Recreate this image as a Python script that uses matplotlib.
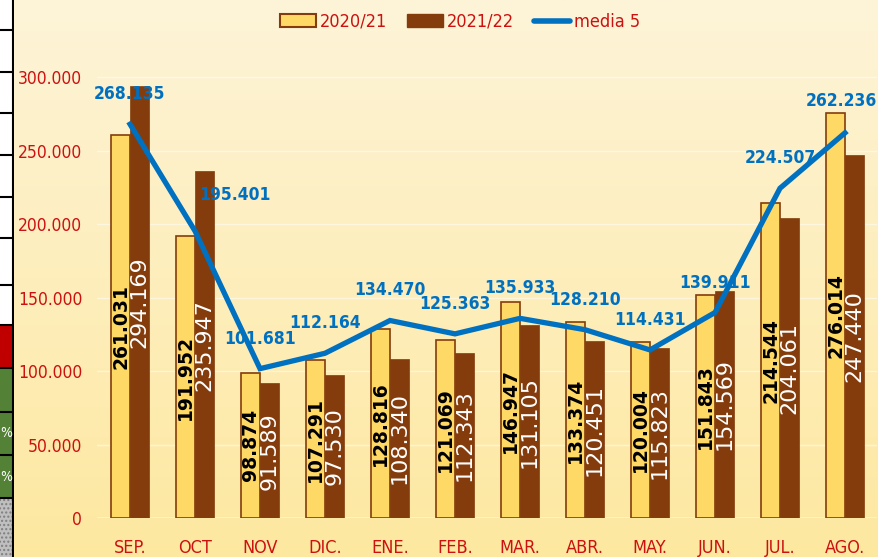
import matplotlib
matplotlib.use("Agg")
import matplotlib.pyplot as plt
import numpy as np
from matplotlib.patches import Rectangle, Patch
from matplotlib.lines import Line2D
from matplotlib.ticker import FuncFormatter

months = ["SEP.", "OCT", "NOV", "DIC.", "ENE.", "FEB.", "MAR.", "ABR.", "MAY.", "JUN.", "JUL.", "AGO."]
s2020 = [261031, 191952, 98874, 107291, 128816, 121069, 146947, 133374, 120004, 151843, 214544, 276014]
s2021 = [294169, 235947, 91589, 97530, 108340, 112343, 131105, 120451, 115823, 154569, 204061, 247440]
media5 = [268135, 195401, 101681, 112164, 134470, 125363, 135933, 128210, 114431, 139911, 224507, 262236]
yticks = [0, 50000, 100000, 150000, 200000, 250000, 300000]

def fmt(v):
    return f"{int(v):,}".replace(",", ".")

plt.rcParams['font.family'] = ['DejaVu Sans']
plt.rcParams['font.stretch'] = 'condensed'

W, H = 879, 557
fig = plt.figure(figsize=(W/100, H/100), dpi=100)

# background gradient
bg = fig.add_axes([0, 0, 1, 1], zorder=-10)
grad = np.linspace(0, 1, 256).reshape(-1, 1)
top = np.array([253, 244, 216]) / 255
bot = np.array([254, 232, 160]) / 255
img = top[None, None, :] * (1 - grad[:, :, None]) + bot[None, None, :] * grad[:, :, None]
bg.imshow(img, aspect='auto', extent=[0, 1, 0, 1])
bg.set_axis_off()

# left spreadsheet strip
strip = fig.add_axes([0, 0, 14/W, 1], zorder=-5)
strip.set_xlim(0, 14)
strip.set_ylim(H, 0)
strip.set_axis_off()
strip.add_patch(Rectangle((0, 0), 13, H, color='white'))
strip.add_patch(Rectangle((0, 325), 13, 43, color='#C00000'))
for y0, y1 in [(368, 412), (413, 454), (456, 498)]:
    strip.add_patch(Rectangle((0, y0), 13, y1 - y0, color='#538135'))
strip.add_patch(Rectangle((0, 499), 13, 58, color='#BFBFBF', hatch='....', ec='#7F7F7F', lw=0))
for y in [30, 72, 113, 155, 197, 238, 285, 325, 368, 412, 455, 498]:
    strip.plot([0, 13], [y, y], color='black', lw=1.5)
strip.plot([13, 13], [0, H], color='black', lw=1.5)
for y in [433, 477]:
    strip.text(12.5, y, "%", color='white', fontsize=10, ha='right', va='center')

ax = fig.add_axes([97.5/W, (H-518)/H, (877.5-97.5)/W, (518-48)/H])
ax.set_facecolor('none')
x = np.arange(len(months))
bw = 0.29
ax.bar(x - bw/2, s2020, width=bw, color='#FFD966', edgecolor='#843C0C', linewidth=1.2, zorder=2)
ax.bar(x + bw/2, s2021, width=bw, color='#843C0C', edgecolor='#843C0C', linewidth=0.5, zorder=2)

for i in range(len(months)):
    ax.text(x[i] - bw/2, s2020[i]/2, fmt(s2020[i]), rotation=90, ha='center', va='center',
            color='black', fontsize=13.5, fontweight='bold', fontstretch='normal', zorder=4)
    ax.text(x[i] + bw/2, s2021[i]/2, fmt(s2021[i]), rotation=90, ha='center', va='center',
            color='white', fontsize=16, fontstretch='normal', zorder=4)

ax.plot(x, media5, color='#0070C0', lw=3.8, zorder=3, solid_joinstyle='miter')
offsets = {1: (40, 36), 11: (-4, 32)}
for i, v in enumerate(media5):
    dx, dy = offsets.get(i, (0, 30))
    ax.annotate(fmt(v), (x[i], v), xytext=(dx, dy), textcoords='offset pixels',
                ha='center', va='center', color='#0070C0', fontsize=12.5, fontweight='bold',
                annotation_clip=False, zorder=5)

ax.set_xlim(-0.5, 11.5)
ax.set_ylim(0, 320000)
ax.set_yticks(yticks)
ax.yaxis.set_major_formatter(FuncFormatter(lambda v, p: fmt(v)))
ax.set_xticks(x)
ax.set_xticklabels(months)
ax.tick_params(axis='both', length=0, colors='#CC1111', labelsize=12.5)
ax.tick_params(axis='x', labelsize=13)
ax.tick_params(axis='y', pad=11)
ax.tick_params(axis='x', pad=15)
for sp in ax.spines.values():
    sp.set_visible(False)
ax.grid(axis='y', color='white', alpha=0.5, lw=1, zorder=0)
ax.axhline(0, color='#F2F2F2', lw=2, zorder=1)

handles = [Patch(facecolor='#FFD966', edgecolor='#843C0C', linewidth=1.5),
           Patch(facecolor='#843C0C', edgecolor='#843C0C'),
           Line2D([0], [0], color='#0070C0', lw=4, solid_capstyle='round')]
leg = fig.legend(handles, ["2020/21", "2021/22", "media 5"], loc='center', bbox_to_anchor=(460/W, 1 - 22/H),
                 ncol=3, frameon=False, fontsize=13, handlelength=2.0, handleheight=0.7,
                 columnspacing=1.1, handletextpad=0.2)
for t in leg.get_texts():
    t.set_color('#CC1111')

fig.savefig("out.png", dpi=100)
